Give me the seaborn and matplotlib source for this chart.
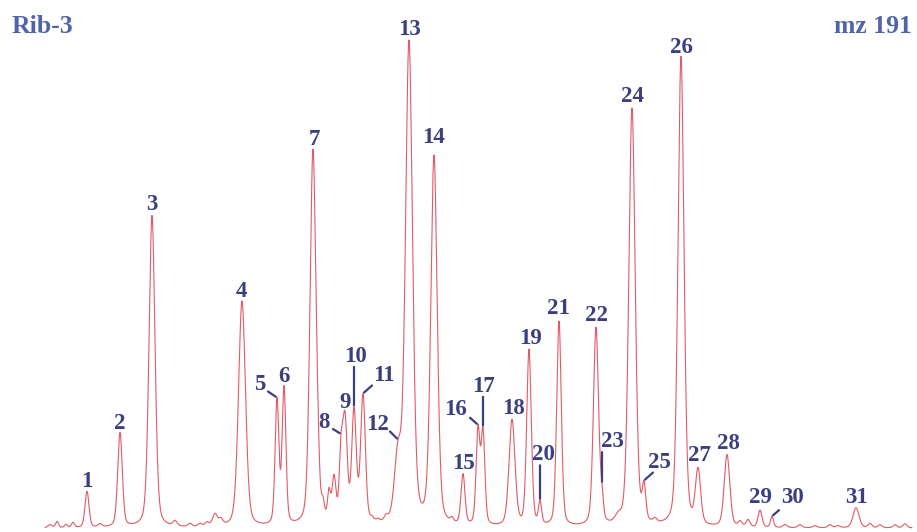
import numpy as np
import pandas as pd
import matplotlib
matplotlib.use("Agg")
import matplotlib.pyplot as plt
import seaborn as sns

# ---------------- data (retention position, apex intensity, peak width) -------------
peak_labels = [str(i) for i in range(1, 32)]
peak_rt = [87, 120, 152, 242, 277, 284, 313, 341, 345, 354, 363, 398, 409, 434, 463,
           478, 483, 512, 529, 540, 559, 596, 602, 632, 644, 681, 698, 727, 760, 772, 856]
peak_intensity = [36, 94, 312, 226, 124, 136, 376, 62, 102, 112, 128, 66, 482, 368, 50,
                  94, 92, 106, 176, 22, 205, 198, 20, 418, 34, 470, 54, 72, 17, 11, 20]
peak_width = [2.0, 2.3, 3.0, 3.5, 1.9, 1.9, 3.0, 1.8, 2.3, 2.3, 2.4, 3.5, 3.5, 3.2, 2.0,
              1.9, 1.9, 3.0, 2.3, 1.6, 2.3, 2.6, 1.5, 3.2, 1.8, 3.0, 2.6, 2.8, 2.0, 1.5, 3.0]

# unlabelled minor humps on the baseline
minor_rt = [50, 57, 66, 73, 100, 175, 190, 200, 207, 215, 221, 318, 323, 329, 334,
            372, 378, 386, 452, 618, 655, 740, 748, 785, 800, 815, 830, 838, 870, 880, 895, 905]
minor_intensity = [3, 6, 3, 5, 3, 5, 3, 3, 4, 12, 6, 20, 14, 28, 44,
                   4, 3, 5, 4, 6, 4, 5, 7, 3, 3, 2, 3, 2, 4, 3, 3, 4]
minor_width = [2, 1.5, 1.5, 1.5, 2, 2, 2, 2, 2, 2.5, 2, 1.5, 1.5, 1.5, 2,
               2, 2, 2, 1.5, 3, 2, 2, 2, 2, 2, 2, 2, 2, 2, 2, 2, 2]

trace_start, trace_end = 45, 912

title_left = "Rib-3"
title_right = "mz 191"

# ---------------- label layout (offset of label baseline-centre from apex, pixels) ---
label_offset = {
    "1": (0, 4), "2": (0, 4), "3": (0, 5), "4": (-1, 4), "5": (-17, 8), "6": (0, 3),
    "7": (1, 4), "8": (-17, 6), "9": (0, 3), "10": (1, 45), "11": (21, 12), "12": (-20, 9),
    "13": (0, 5), "14": (0, 12), "15": (0, 5), "16": (-23, 10), "17": (0, 35), "18": (1, 5),
    "19": (2, 5), "20": (3, 40), "21": (-1, 7), "22": (0, 6), "23": (10, 36), "24": (0, 6),
    "25": (15, 13), "26": (0, 3), "27": (1, 6), "28": (1, 6), "29": (0, 7), "30": (21, 13),
    "31": (1, 5),
}
# leader lines: (start offset from apex in pixels)
leaders = {
    "5": (-9, 6), "8": (-8, 5), "10": (0, 40), "11": (9, 8), "12": (-8, 8), "16": (-8, 7),
    "17": (0, 30), "20": (0, 35), "23": (0, 31), "25": (9, 8), "30": (7, 6),
}

LINE_RED = "#e35a64"
NAVY = "#3b3f80"
TITLE_BLUE = "#5064aa"


def peak_shape(t, rt, h, s):
    g = np.exp(-0.5 * ((t - rt) / s) ** 2)
    gamma = 1.1774 * s
    lor = 1.0 / (1.0 + ((t - rt) / gamma) ** 2)
    return h * (0.7 * g + 0.3 * lor)


t = np.arange(trace_start, trace_end + 0.01, 0.25)
signal = np.zeros_like(t)
for rt, h, s in zip(peak_rt + minor_rt, peak_intensity + minor_intensity,
                    peak_width + minor_width):
    signal += peak_shape(t, rt, h, s)
df = pd.DataFrame({"time": t, "signal": signal})

sns.set_theme(style="white")
plt.rcParams["font.family"] = ["Liberation Serif", "DejaVu Serif"]

fig = plt.figure(figsize=(9.17, 5.32), dpi=100)
ax = fig.add_axes([0, 0, 1, 1])
sns.lineplot(data=df, x="time", y="signal", ax=ax, color=LINE_RED, linewidth=0.8)
ax.set_xlim(0, 917)
ax.set_ylim(-4, 528)
ax.axis("off")

for lab, rt, h in zip(peak_labels, peak_rt, peak_intensity):
    apex_y = float(np.interp(rt, t, signal))
    dx, dy = label_offset[lab]
    ax.annotate(lab, xy=(rt, apex_y), xytext=(dx, dy), textcoords="offset pixels",
                ha="center", va="baseline", fontsize=16.5, fontweight="bold", color=NAVY)
    if lab in leaders:
        lx, ly = leaders[lab]
        ax.annotate("", xy=(rt, apex_y), xytext=(lx, ly), textcoords="offset pixels",
                    arrowprops=dict(arrowstyle="-", color=NAVY, lw=1.6,
                                    shrinkA=0, shrinkB=1))

fig.text(12 / 917, 1 - 33 / 532, title_left, ha="left", va="baseline",
         fontsize=18.5, fontweight="bold", color=TITLE_BLUE)
fig.text(912 / 917, 1 - 33 / 532, title_right, ha="right", va="baseline",
         fontsize=18.5, fontweight="bold", color=TITLE_BLUE)

fig.savefig("out.png", dpi=100, facecolor="white")
